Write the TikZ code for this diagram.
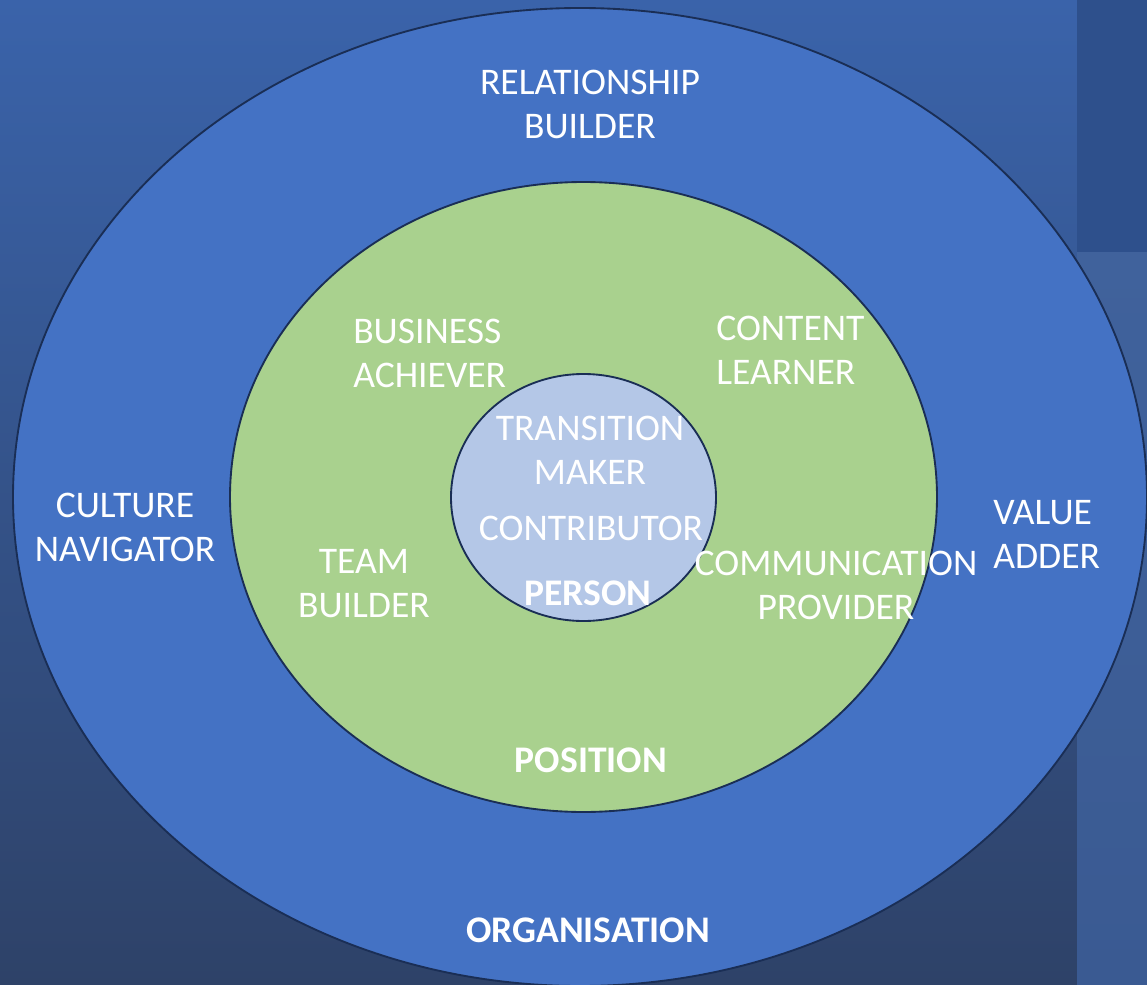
\documentclass[tikz,border=0pt]{standalone}
\usepackage{fontspec}
\setmainfont{Carlito}
\usetikzlibrary{shapes.geometric}
\definecolor{orgblue}{HTML}{4472C4}
\definecolor{posgreen}{HTML}{A9D18E}
\definecolor{perblue}{HTML}{B4C7E7}
\definecolor{rim}{HTML}{1A2E55}
\definecolor{bgtop}{RGB}{58,99,170}
\definecolor{bgbot}{RGB}{46,66,104}
\definecolor{bandtop}{RGB}{46,80,140}
\definecolor{bandlo}{RGB}{64,98,156}
\definecolor{bandbot}{RGB}{58,90,146}
\begin{document}
\begin{tikzpicture}[x=0.75pt,y=-0.75pt,
  lbl/.style={text=white, font=\fontsize{28.2}{33}\selectfont, align=center, inner sep=0pt},
  lblb/.style={lbl, font=\fontsize{28.2}{33}\selectfont\bfseries},
  ring/.style={ellipse, draw=rim, line width=1.4pt, inner sep=0pt}]
\useasboundingbox (0,0) rectangle (1147,985);
\shade[top color=bgtop, bottom color=bgbot] (0,0) rectangle (1077,985);
\fill[bandtop] (1077,0) rectangle (1147,252);
\shade[top color=bandlo, bottom color=bandbot] (1077,252) rectangle (1147,985);
\node[ring, fill=orgblue, minimum width=850.5pt, minimum height=733.5pt] (org) at (580,497) {};
\node[ring, fill=posgreen, minimum width=530.25pt, minimum height=472.5pt] (pos) at (583.5,497) {};
\node[ring, fill=perblue, minimum width=198.75pt, minimum height=185.25pt] (per) at (583.5,497.5) {};
\node[lbl] (rb) at (590,104) {RELATIONSHIP\\BUILDER};
\node[lbl, anchor=west, align=left] (ba) at (353,353) {BUSINESS\\ACHIEVER};
\node[lbl, anchor=west, align=left] (cl) at (716,350) {CONTENT\\LEARNER};
\node[lbl] (tm) at (590,450) {TRANSITION\\MAKER};
\node[lbl] (co) at (591,528) {CONTRIBUTOR};
\node[lblb] (pe) at (588,593) {PERSON};
\node[lbl] (cn) at (125,527.5) {CULTURE\\NAVIGATOR};
\node[lbl] (tb) at (364,584) {TEAM\\BUILDER};
\node[lbl] (cp) at (836,585) {COMMUNICATION\\PROVIDER};
\node[lbl, anchor=west, align=left] (va) at (993,534.5) {VALUE\\ADDER};
\node[lblb] (po) at (591,760) {POSITION};
\node[lblb] (or) at (588,930) {ORGANISATION};
\end{tikzpicture}
\end{document}
